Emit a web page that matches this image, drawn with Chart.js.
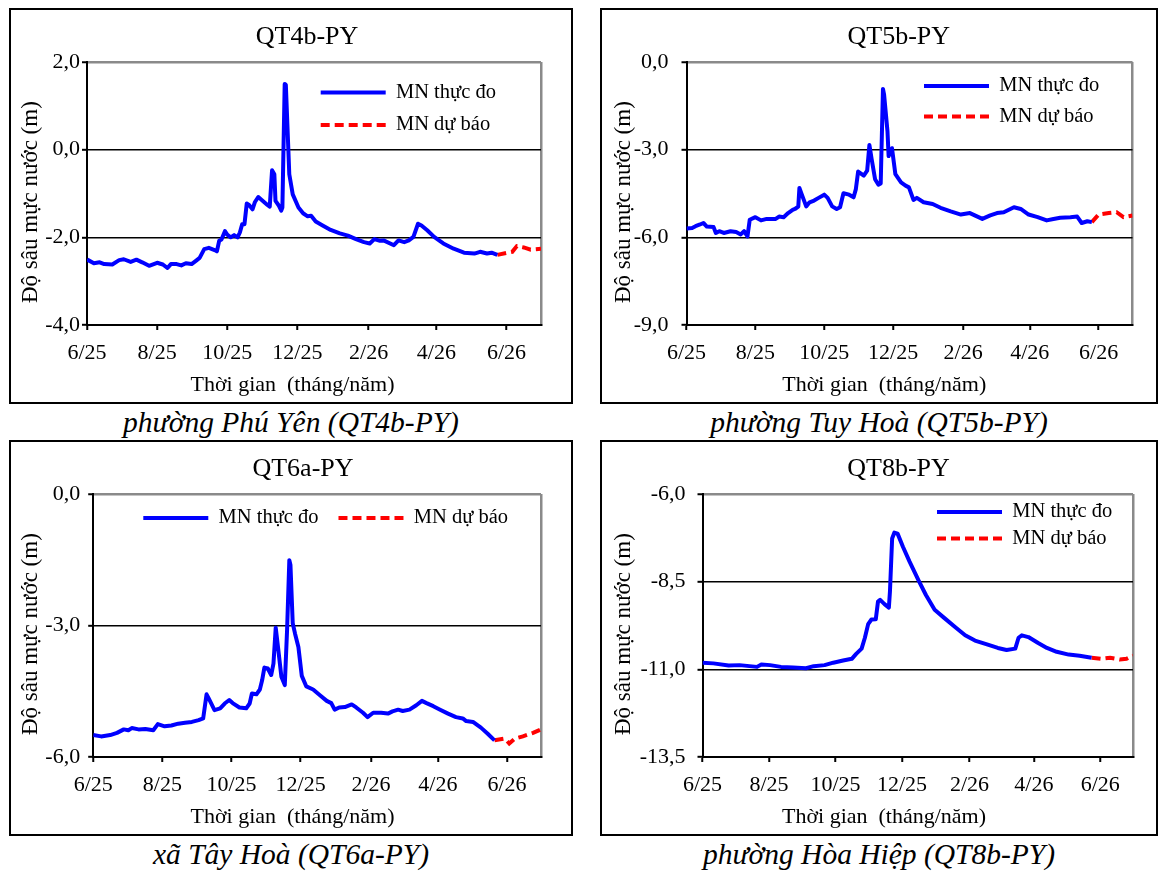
<!DOCTYPE html>
<html>
<head>
<meta charset="utf-8">
<title>Mực nước dự báo</title>
<script src="https://cdn.jsdelivr.net/npm/chart.js@4.4.1/dist/chart.umd.min.js"></script>
<style>
  body { margin: 0; background: #fff; }
  #page { position: relative; width: 1160px; height: 873px; overflow: hidden; background: #fff;
          font-family: 'Liberation Serif', 'Times New Roman', serif; }
  .frame { position: absolute; box-sizing: border-box; border: 2px solid #000; }
  .frame canvas { position: absolute; left: -2px; top: -2px; }
  .caption { position: absolute; font-style: italic; font-size: 29.5px; line-height: 36px;
             text-align: center; color: #000; white-space: nowrap; }
</style>
</head>
<body>
<div id="page">
  <div class="frame" style="left:9px;top:8px;width:564px;height:396px"><canvas id="c1" width="564" height="396"></canvas></div>
  <div class="frame" style="left:600px;top:8px;width:558px;height:396px"><canvas id="c2" width="558" height="396"></canvas></div>
  <div class="frame" style="left:9px;top:440px;width:564px;height:396px"><canvas id="c3" width="564" height="396"></canvas></div>
  <div class="frame" style="left:600px;top:440px;width:558px;height:396px"><canvas id="c4" width="558" height="396"></canvas></div>
  <div class="caption" style="left:9px;top:404px;width:564px">phường Phú Yên (QT4b-PY)</div>
  <div class="caption" style="left:600px;top:404px;width:558px">phường Tuy Hoà (QT5b-PY)</div>
  <div class="caption" style="left:9px;top:836px;width:564px">xã Tây Hoà (QT6a-PY)</div>
  <div class="caption" style="left:600px;top:836px;width:558px">phường Hòa Hiệp (QT8b-PY)</div>
</div>
<script>
// ngày tính từ 1/6/2025
const tickDays = [0, 61, 122, 183, 245, 304, 365];
const tickLabels = ['6/25', '8/25', '10/25', '12/25', '2/26', '4/26', '6/26'];
const seriesNames = ['MN thực đo', 'MN dự báo'];

// QT4b-PY
const qt4bDays = [0, 1, 6, 11, 15, 22, 28, 32, 38, 43, 48, 54, 61, 66, 70, 73, 78, 82, 86, 91, 95, 98, 102, 106, 111, 113, 115, 117, 120, 122, 125, 128, 131, 133, 135, 137, 139, 141, 144, 146, 149, 153, 157, 159, 161, 163, 164, 167, 169, 170, 172, 173, 175, 176, 179, 184, 188, 192, 195, 199, 205, 212, 220, 227, 234, 241, 246, 250, 255, 258, 267, 271, 276, 280, 284, 288, 291, 296, 302, 310, 319, 328, 337, 342, 348, 352, 357];
const qt4bObs = [-2.50, -2.52, -2.59, -2.57, -2.61, -2.62, -2.52, -2.50, -2.56, -2.51, -2.57, -2.65, -2.58, -2.62, -2.70, -2.61, -2.61, -2.64, -2.59, -2.61, -2.53, -2.47, -2.27, -2.24, -2.29, -2.32, -2.08, -2.05, -1.86, -1.94, -2.00, -1.95, -2.00, -1.89, -1.70, -1.70, -1.23, -1.26, -1.36, -1.20, -1.08, -1.17, -1.26, -1.30, -0.47, -0.56, -1.17, -1.28, -1.39, -1.32, 1.50, 1.48, 0.12, -0.56, -1.02, -1.32, -1.45, -1.52, -1.51, -1.64, -1.73, -1.83, -1.91, -1.96, -2.04, -2.11, -2.14, -2.04, -2.08, -2.07, -2.18, -2.07, -2.11, -2.07, -1.99, -1.69, -1.73, -1.84, -1.99, -2.14, -2.26, -2.35, -2.37, -2.33, -2.37, -2.35, -2.40];
const qt4bFcDays = [357, 366, 370, 374, 380, 386, 395];
const qt4bFc = [-2.40, -2.35, -2.33, -2.20, -2.23, -2.28, -2.26];

// QT5b-PY
const qt5bDays = [0, 5, 8, 12, 15, 18, 24, 26, 29, 33, 39, 44, 48, 51, 54, 56, 61, 66, 71, 79, 82, 86, 90, 94, 96, 99, 100, 102, 106, 109, 113, 117, 122, 125, 129, 133, 136, 139, 144, 148, 150, 152, 157, 160, 162, 164, 167, 170, 172, 174, 175, 178, 179, 182, 183, 185, 190, 194, 197, 201, 204, 210, 218, 225, 234, 243, 251, 262, 269, 275, 281, 290, 296, 303, 311, 319, 325, 331, 340, 346, 350, 355, 359];
const qt5bObs = [-5.70, -5.68, -5.62, -5.56, -5.51, -5.63, -5.65, -5.85, -5.79, -5.85, -5.79, -5.82, -5.90, -5.79, -5.97, -5.40, -5.31, -5.42, -5.37, -5.37, -5.29, -5.31, -5.17, -5.06, -5.03, -4.95, -4.31, -4.52, -4.94, -4.80, -4.74, -4.65, -4.54, -4.65, -4.94, -5.03, -4.97, -4.49, -4.54, -4.63, -4.35, -3.75, -3.89, -3.72, -2.84, -3.33, -4.01, -4.20, -4.16, -0.92, -1.12, -2.37, -3.22, -2.95, -3.25, -3.84, -4.12, -4.23, -4.29, -4.72, -4.65, -4.80, -4.86, -4.99, -5.11, -5.22, -5.17, -5.37, -5.25, -5.17, -5.14, -4.97, -5.03, -5.22, -5.31, -5.42, -5.37, -5.33, -5.31, -5.29, -5.51, -5.45, -5.48];
const qt5bFcDays = [359, 365, 374, 381, 387, 395];
const qt5bFc = [-5.48, -5.22, -5.17, -5.14, -5.31, -5.25];

// QT6a-PY
const qt6aDays = [0, 7, 15, 21, 27, 31, 34, 40, 46, 53, 57, 63, 69, 75, 81, 87, 93, 97, 100, 102, 107, 112, 116, 120, 123, 129, 135, 138, 140, 144, 147, 149, 151, 154, 157, 159, 161, 163, 166, 169, 171, 173, 174, 176, 178, 181, 184, 188, 194, 200, 206, 210, 213, 217, 222, 228, 232, 238, 242, 247, 254, 260, 264, 269, 273, 279, 285, 290, 294, 300, 306, 313, 320, 326, 329, 335, 342, 348, 354];
const qt6aObs = [-5.50, -5.53, -5.50, -5.45, -5.37, -5.39, -5.34, -5.37, -5.36, -5.39, -5.25, -5.30, -5.28, -5.24, -5.22, -5.20, -5.16, -5.12, -4.57, -4.67, -4.93, -4.89, -4.78, -4.70, -4.77, -4.87, -4.89, -4.78, -4.55, -4.57, -4.46, -4.25, -3.96, -3.98, -4.13, -3.87, -3.05, -3.49, -4.17, -4.36, -3.11, -1.51, -1.62, -2.95, -3.18, -3.49, -4.15, -4.39, -4.46, -4.59, -4.72, -4.77, -4.92, -4.87, -4.86, -4.80, -4.87, -4.99, -5.09, -4.99, -4.99, -5.01, -4.96, -4.92, -4.95, -4.92, -4.82, -4.72, -4.77, -4.84, -4.92, -5.01, -5.09, -5.12, -5.18, -5.20, -5.33, -5.47, -5.62];
const qt6aFcDays = [354, 363, 367, 372, 379, 388, 395];
const qt6aFc = [-5.62, -5.58, -5.69, -5.58, -5.53, -5.45, -5.37];

// QT8b-PY
const qt8bDays = [0, 10, 24, 34, 50, 54, 62, 72, 83, 95, 102, 112, 120, 129, 137, 141, 146, 149, 152, 155, 159, 161, 163, 167, 171, 172, 174, 176, 179, 184, 190, 198, 205, 213, 222, 232, 241, 250, 261, 271, 279, 287, 290, 293, 299, 308, 316, 325, 336, 346, 357];
const qt8bObs = [-10.81, -10.83, -10.89, -10.88, -10.93, -10.86, -10.88, -10.93, -10.95, -10.97, -10.91, -10.88, -10.81, -10.75, -10.70, -10.56, -10.41, -10.10, -9.71, -9.58, -9.57, -9.07, -9.02, -9.14, -9.24, -8.78, -7.27, -7.10, -7.13, -7.51, -7.93, -8.45, -8.88, -9.30, -9.54, -9.80, -10.03, -10.18, -10.29, -10.39, -10.45, -10.41, -10.10, -10.03, -10.08, -10.25, -10.39, -10.50, -10.58, -10.61, -10.67];
const qt8bFcDays = [357, 366, 374, 383, 389, 395];
const qt8bFc = [-10.67, -10.70, -10.67, -10.72, -10.70, -10.61];

var FONT = "'Liberation Serif', 'Times New Roman', serif";
var X_MAX = 395;
var EDGE = '#8a8a8a';
Chart.defaults.font.family = FONT;
Chart.defaults.color = '#000';

function pairs(days, vals) {
  return days.map(function (d, i) { return { x: d, y: vals[i] }; });
}

function comma(v) {
  return v.toFixed(1).replace('.', ',').replace('-0,0', '0,0');
}

// dời tiêu đề, tiêu đề trục X và chú thích về đúng chỗ như hình gốc
var nudge = {
  id: 'nudge',
  beforeLayout: function (chart, args, o) {
    if (o.rowLegend && chart.legend) {
      chart.legend.isHorizontal = function () { return true; };
    }
  },
  afterLayout: function (chart, args, o) {
    var t = chart.titleBlock;
    t.left += o.titleDx; t.right += o.titleDx;
    chart.boxes.forEach(function (b) {
      if (b !== t && b.constructor === t.constructor) {
        b.left += o.subDx; b.right += o.subDx;
      }
    });
    var lg = chart.legend;
    lg.left = o.legendX - o.legendPad;
    lg.top = o.legendY - o.legendFont / 2 - o.legendPad;
    lg.right = chart.width;
    lg.bottom = chart.chartArea.bottom;
  }
};

function drawPanel(id, p) {
  var ctx = document.getElementById(id).getContext('2d');
  var config = {
    type: 'line',
    data: {
      datasets: [{
        label: seriesNames[0],
        data: pairs(p.days, p.obs),
        borderColor: '#0000ff',
        backgroundColor: '#0000ff',
        borderWidth: 4,
        borderJoinStyle: 'round',
        pointRadius: 0,
        tension: 0
      }, {
        label: seriesNames[1],
        data: pairs(p.fcDays, p.fc),
        borderColor: '#ff0000',
        backgroundColor: '#ff0000',
        borderWidth: 4,
        borderDash: [9, 5],
        pointRadius: 0,
        tension: 0
      }]
    },
    options: {
      responsive: false,
      animation: false,
      events: [],
      layout: { padding: { left: 0, right: p.padRight, top: 0, bottom: 0 } },
      scales: {
        x: {
          type: 'linear',
          min: 0,
          max: X_MAX,
          afterBuildTicks: function (s) {
            s.ticks = tickDays.concat([X_MAX]).map(function (v) { return { value: v }; });
          },
          afterFit: function (s) { s.height = 40; },
          ticks: {
            autoSkip: false,
            maxRotation: 0,
            padding: 10,
            font: { size: 22 },
            callback: function (v, i) { return tickLabels[i] || ''; }
          },
          grid: {
            drawOnChartArea: true,
            color: function (c) { return c.tick && c.tick.value === X_MAX ? EDGE : 'rgba(0,0,0,0)'; },
            tickColor: function (c) { return c.tick && c.tick.value === X_MAX ? 'rgba(0,0,0,0)' : '#000'; },
            lineWidth: 2.5,
            tickWidth: 2,
            tickLength: 5
          },
          border: { color: '#000', width: 2 }
        },
        y: {
          min: p.yMin,
          max: p.yMax,
          afterFit: function (s) { s.width = p.yWidth; },
          ticks: {
            stepSize: p.yStep,
            padding: p.yTickPad,
            font: { size: 22 },
            callback: function (v) { return comma(v); }
          },
          grid: {
            color: function (c) { return c.tick && Math.abs(c.tick.value - p.yMax) < 1e-6 ? EDGE : '#000'; },
            lineWidth: function (c) { return c.tick && Math.abs(c.tick.value - p.yMax) < 1e-6 ? 2.5 : 1.6; },
            tickColor: '#000',
            tickWidth: 2,
            tickLength: 5
          },
          border: { color: '#000', width: 2 },
          title: {
            display: true,
            // khoảng trắng cuối để chữ lệch xuống một chút như bản gốc
            text: 'Độ sâu mực nước (m)   ',
            font: { size: 23 },
            padding: { top: p.yTitlePad, bottom: 0 }
          }
        }
      },
      plugins: {
        title: {
          display: true,
          text: p.title,
          font: { size: 26, weight: 'normal' },
          padding: { top: 14, bottom: 8.8 }
        },
        subtitle: {
          display: true,
          position: 'bottom',
          text: 'Thời gian  (tháng/năm)',
          font: { size: 22, weight: 'normal' },
          padding: { top: 6.8, bottom: 5.8 }
        },
        legend: {
          position: 'chartArea',
          align: 'start',
          labels: {
            usePointStyle: true,
            pointStyle: 'line',
            pointStyleWidth: 65,
            padding: p.legend.pad,
            font: { size: 20.5 },
            generateLabels: function (chart) {
              var items = Chart.defaults.plugins.legend.labels.generateLabels(chart);
              items.forEach(function (it) {
                var ds = chart.data.datasets[it.datasetIndex];
                it.lineDash = ds.borderDash || [];
                it.lineWidth = ds.borderWidth;
                it.strokeStyle = ds.borderColor;
              });
              return items;
            }
          }
        },
        tooltip: { enabled: false },
        nudge: {
          titleDx: p.titleDx,
          subDx: p.subDx,
          legendX: p.legend.x,
          legendY: p.legend.y,
          legendPad: p.legend.pad,
          legendFont: 20.5,
          rowLegend: p.legend.row
        }
      }
    },
    plugins: [nudge]
  };
  return new Chart(ctx, config);
}

window.onload = function () {
  drawPanel('c1', {
    title: 'QT4b-PY', days: qt4bDays, obs: qt4bObs, fcDays: qt4bFcDays, fc: qt4bFc,
    yMin: -4, yMax: 2, yStep: 2, yWidth: 78, yTickPad: 2, padRight: 32, titleDx: 32, subDx: 17.5, yTitlePad: 8.6,
    legend: { x: 311.7, y: 84.5, pad: 12, row: false }
  });
  drawPanel('c2', {
    title: 'QT5b-PY', days: qt5bDays, obs: qt5bObs, fcDays: qt5bFcDays, fc: qt5bFc,
    yMin: -9, yMax: 0, yStep: 3, yWidth: 86.5, yTickPad: 13, padRight: 25.5, titleDx: 32.5, subDx: 18, yTitlePad: 10,
    legend: { x: 324, y: 78, pad: 10, row: false }
  });
  drawPanel('c3', {
    title: 'QT6a-PY', days: qt6aDays, obs: qt6aObs, fcDays: qt6aFcDays, fc: qt6aFc,
    yMin: -6, yMax: 0, yStep: 3, yWidth: 84.2, yTickPad: 8, padRight: 32, titleDx: 28, subDx: 17.5, yTitlePad: 8.6,
    legend: { x: 134.3, y: 78, pad: 20, row: true }
  });
  drawPanel('c4', {
    title: 'QT8b-PY', days: qt8bDays, obs: qt8bObs, fcDays: qt8bFcDays, fc: qt8bFc,
    yMin: -13.5, yMax: -6, yStep: 2.5, yWidth: 102.5, yTickPad: 12, padRight: 25, titleDx: 32, subDx: 17.5, yTitlePad: 10,
    legend: { x: 337, y: 72, pad: 6, row: false }
  });
};
</script>
</body>
</html>
